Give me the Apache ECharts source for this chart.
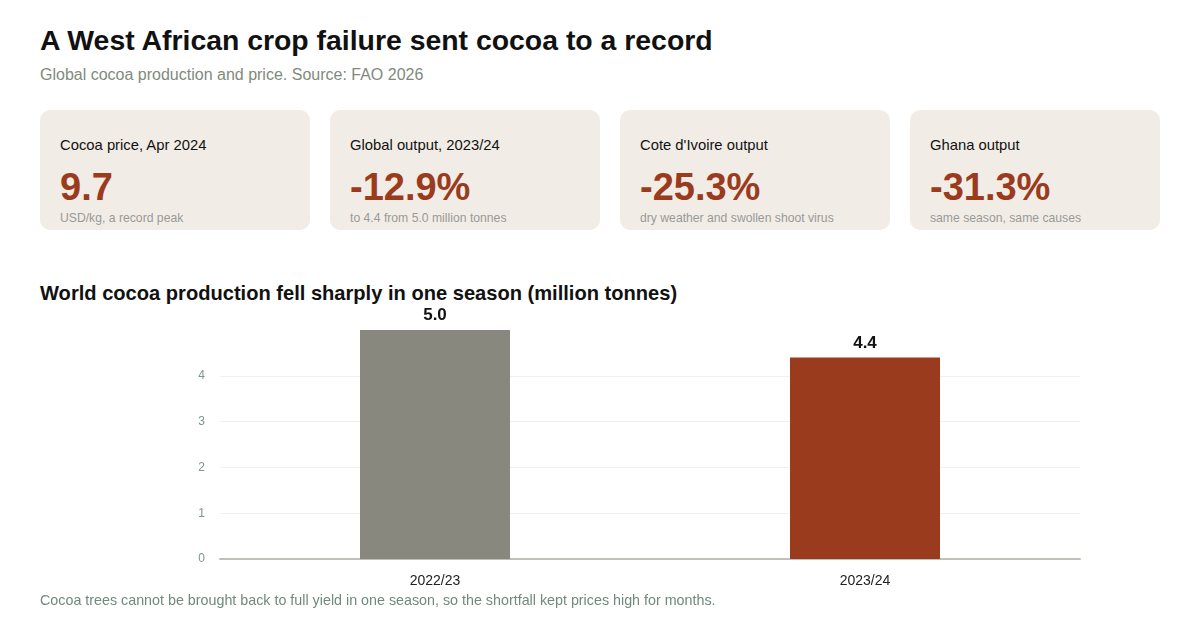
<!DOCTYPE html>
<html>
<head>
<meta charset="utf-8">
<script src="https://cdn.jsdelivr.net/npm/echarts@6/dist/echarts.min.js"></script>
<style>
  html, body { margin: 0; padding: 0; background: #ffffff; }
  body { width: 1200px; height: 620px; position: relative; overflow: hidden; font-family: "Liberation Sans", Arial, sans-serif; }
  .title { position: absolute; left: 40px; top: 24px; font-size: 28.4px; font-weight: bold; color: #111111; white-space: nowrap; }
  .subtitle { position: absolute; left: 40px; top: 66px; font-size: 16px; color: #7f8a7c; white-space: nowrap; }
  .card { position: absolute; top: 110px; height: 120px; background: #f1ede6; border-radius: 10px; }
  .card .lab { position: absolute; left: 20px; top: 27px; font-size: 14.8px; color: #111111; white-space: nowrap; }
  .card .val { position: absolute; left: 20px; top: 56px; font-size: 38px; font-weight: bold; color: #9a3b1e; white-space: nowrap; }
  .card .sub { position: absolute; left: 20px; top: 101px; font-size: 12.2px; color: #999999; white-space: nowrap; }
  .ctitle { position: absolute; left: 40px; top: 282px; font-size: 20.1px; font-weight: bold; color: #111111; white-space: nowrap; }
  .foot { position: absolute; left: 40px; top: 592px; font-size: 14.3px; color: #6f8a7c; white-space: nowrap; }
  #chart { position: absolute; left: 0; top: 300px; width: 1200px; height: 300px; }
</style>
</head>
<body>
<div class="title" id="title"></div>
<div class="subtitle" id="subtitle"></div>
<div id="cards"></div>
<div class="ctitle" id="ctitle"></div>
<div id="chart"></div>
<div class="foot" id="foot"></div>
<script>
const titleText = "A West African crop failure sent cocoa to a record";
const subtitleText = "Global cocoa production and price. Source: FAO 2026";
const chartTitle = "World cocoa production fell sharply in one season (million tonnes)";
const footText = "Cocoa trees cannot be brought back to full yield in one season, so the shortfall kept prices high for months.";

const cardLabels = ["Cocoa price, Apr 2024", "Global output, 2023/24", "Cote d'Ivoire output", "Ghana output"];
const cardValues = ["9.7", "-12.9%", "-25.3%", "-31.3%"];
const cardNotes = ["USD/kg, a record peak", "to 4.4 from 5.0 million tonnes", "dry weather and swollen shoot virus", "same season, same causes"];

const seasons = ["2022/23", "2023/24"];
const production = [5.0, 4.4];
const barColors = ["#89887f", "#9a3b1e"];

document.getElementById("title").textContent = titleText;
document.getElementById("subtitle").textContent = subtitleText;
document.getElementById("ctitle").textContent = chartTitle;
document.getElementById("foot").textContent = footText;

const cardsEl = document.getElementById("cards");
cardLabels.forEach((lab, i) => {
  const x = 40 + i * 290;
  const c = document.createElement("div");
  c.className = "card";
  c.style.left = x + "px";
  c.style.width = Math.min(270, 1160 - x) + "px";
  const a = document.createElement("div"); a.className = "lab"; a.textContent = lab;
  const b = document.createElement("div"); b.className = "val"; b.textContent = cardValues[i];
  const d = document.createElement("div"); d.className = "sub"; d.textContent = cardNotes[i];
  c.appendChild(a); c.appendChild(b); c.appendChild(d);
  cardsEl.appendChild(c);
});

const chart = echarts.init(document.getElementById("chart"), null, { renderer: "canvas" });
chart.setOption({
  animation: false,
  textStyle: { fontFamily: "Liberation Sans, Arial, sans-serif" },
  grid: { left: 220, right: 120, top: 30, bottom: 41, containLabel: false },
  xAxis: {
    type: "category",
    data: seasons,
    axisLine: { show: true, lineStyle: { color: "#c0bfb8", width: 2 } },
    axisTick: { show: false },
    axisLabel: { color: "#222222", fontSize: 14, margin: 15 }
  },
  yAxis: {
    type: "value",
    min: 0,
    max: 5,
    interval: 1,
    axisLine: { show: false },
    axisTick: { show: false },
    axisLabel: { color: "#7f9590", fontSize: 12, margin: 15, showMaxLabel: false, padding: [2, 0, 0, 0] },
    splitLine: { show: true, showMaxLine: false, showMinLine: false, lineStyle: { color: "#f0f0f0", width: 1 } }
  },
  series: [{
    type: "bar",
    barWidth: 150,
    data: production.map((v, i) => ({ value: v, itemStyle: { color: barColors[i] } })),
    label: {
      show: true,
      position: "top",
      distance: 6,
      fontSize: 17,
      fontWeight: "bold",
      color: "#111111",
      formatter: p => p.value.toFixed(1)
    }
  }]
});
</script>
</body>
</html>
